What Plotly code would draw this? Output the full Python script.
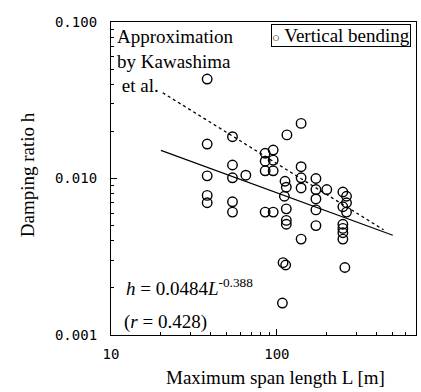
import plotly.graph_objects as go
import numpy as np

# ---- data ----
span_length = [38, 38, 38, 38, 38,
               54, 54, 54, 54, 54,
               65,
               85, 85, 85, 85,
               95, 95, 95, 95,
               115, 112, 114, 111, 114, 114, 114, 109, 113, 108,
               140, 140, 140, 140, 140,
               172, 172, 172, 172, 172,
               200,
               250, 250, 250, 250, 250, 250,
               263, 263, 263, 257]
damping_ratio = [0.0432, 0.0166, 0.0104, 0.0078, 0.0070,
                 0.0185, 0.0122, 0.0101, 0.0071, 0.0061,
                 0.0105,
                 0.0145, 0.0129, 0.0112, 0.0061,
                 0.0152, 0.0131, 0.0112, 0.0061,
                 0.0190, 0.0096, 0.0088, 0.0077, 0.0064, 0.0054, 0.0051, 0.0029, 0.0028, 0.0016,
                 0.0225, 0.0119, 0.0101, 0.0087, 0.0041,
                 0.0100, 0.0085, 0.0074, 0.0063, 0.0050,
                 0.0085,
                 0.0082, 0.0066, 0.0051, 0.0048, 0.0045, 0.0041,
                 0.0077, 0.0070, 0.0061, 0.0027]

fit_coef = 0.0484
fit_exp = -0.388
fit_L = [20, 500]
fit_h = [fit_coef * L ** fit_exp for L in fit_L]

kawashima_L = [20.5, 440]
kawashima_h = [0.0353, 0.0047]

x_ticks = [10, 100]
x_ticklabels = ["10", "100"]
x_minor = [20, 30, 40, 50, 60, 70, 80, 90, 200, 300, 400, 500, 600]
y_ticks = [0.001, 0.01, 0.1]
y_ticklabels = ["0.001", "0.010", "0.100"]
y_minor = [0.002, 0.003, 0.004, 0.005, 0.006, 0.007, 0.008, 0.009,
           0.02, 0.03, 0.04, 0.05, 0.06, 0.07, 0.08, 0.09]

serif = "Liberation Serif, Times New Roman, serif"
mono = "DejaVu Sans Mono, monospace"

fig = go.Figure()
fig.add_trace(go.Scatter(x=kawashima_L, y=kawashima_h, mode="lines",
                         line=dict(color="black", width=1.3, dash="dot"),
                         showlegend=False))
fig.add_trace(go.Scatter(x=fit_L, y=fit_h, mode="lines",
                         line=dict(color="black", width=1.2),
                         showlegend=False))
fig.add_trace(go.Scatter(x=span_length, y=damping_ratio, mode="markers",
                         marker=dict(symbol="circle-open", size=9.5, color="black",
                                     line=dict(width=1.4, color="black")),
                         name="Vertical bending", showlegend=False))

axis_common = dict(type="log", showgrid=False, zeroline=False,
                   showline=True, linecolor="black", linewidth=1.2, mirror=True,
                   ticks="inside", ticklen=6, tickcolor="black", tickwidth=1,
                   tickfont=dict(family=mono, size=14, color="black"))

fig.update_xaxes(**axis_common, range=[1, np.log10(690)],
                 tickvals=x_ticks, ticktext=x_ticklabels, ticklabelstandoff=6,
                 minor=dict(tickmode="array", tickvals=x_minor, ticks="inside", ticklen=3,
                            tickcolor="black", showgrid=False))
fig.update_yaxes(**axis_common, range=[-3, -1],
                 tickvals=y_ticks, ticktext=y_ticklabels, ticklabelstandoff=10,
                 minor=dict(tickmode="array", tickvals=y_minor, ticks="inside", ticklen=3,
                            tickcolor="black", showgrid=False))

ann_font = dict(family=serif, size=19, color="black")
fig.update_layout(
    width=421, height=392,
    margin=dict(l=111, r=5, t=22, b=57),
    paper_bgcolor="white", plot_bgcolor="white",
    showlegend=False,
    annotations=[
        dict(xref="paper", yref="paper", x=0.013, y=0.995, xanchor="left", yanchor="top",
             text="Approximation<br>by Kawashima<br>&nbsp;et al.", align="left",
             showarrow=False, font=ann_font),
        dict(xref="paper", yref="paper", x=0.985, y=0.994, xanchor="right", yanchor="top",
             text="<span style='font-size:13px'>○</span> Vertical bending",
             showarrow=False, font=ann_font, bordercolor="black", borderwidth=1,
             borderpad=0, bgcolor="white"),
        dict(xref="paper", yref="paper", x=0.043, y=0.154, xanchor="left", yanchor="middle",
             text="<i>h</i> = 0.0484<i>L</i><sup>-0.388</sup>",
             showarrow=False, font=ann_font),
        dict(xref="paper", yref="paper", x=0.037, y=0.043, xanchor="left", yanchor="middle",
             text="(<i>r</i> = 0.428)", showarrow=False, font=ann_font),
        dict(xref="paper", yref="paper", x=0.539, y=-0.137, xanchor="center", yanchor="middle",
             text="Maximum span length L [m]", showarrow=False, font=ann_font),
        dict(xref="paper", yref="paper", x=-0.275, y=0.511, xanchor="center", yanchor="middle",
             text="Damping ratio h", textangle=-90, showarrow=False, font=ann_font),
    ],
)

fig.write_html("out.html")
